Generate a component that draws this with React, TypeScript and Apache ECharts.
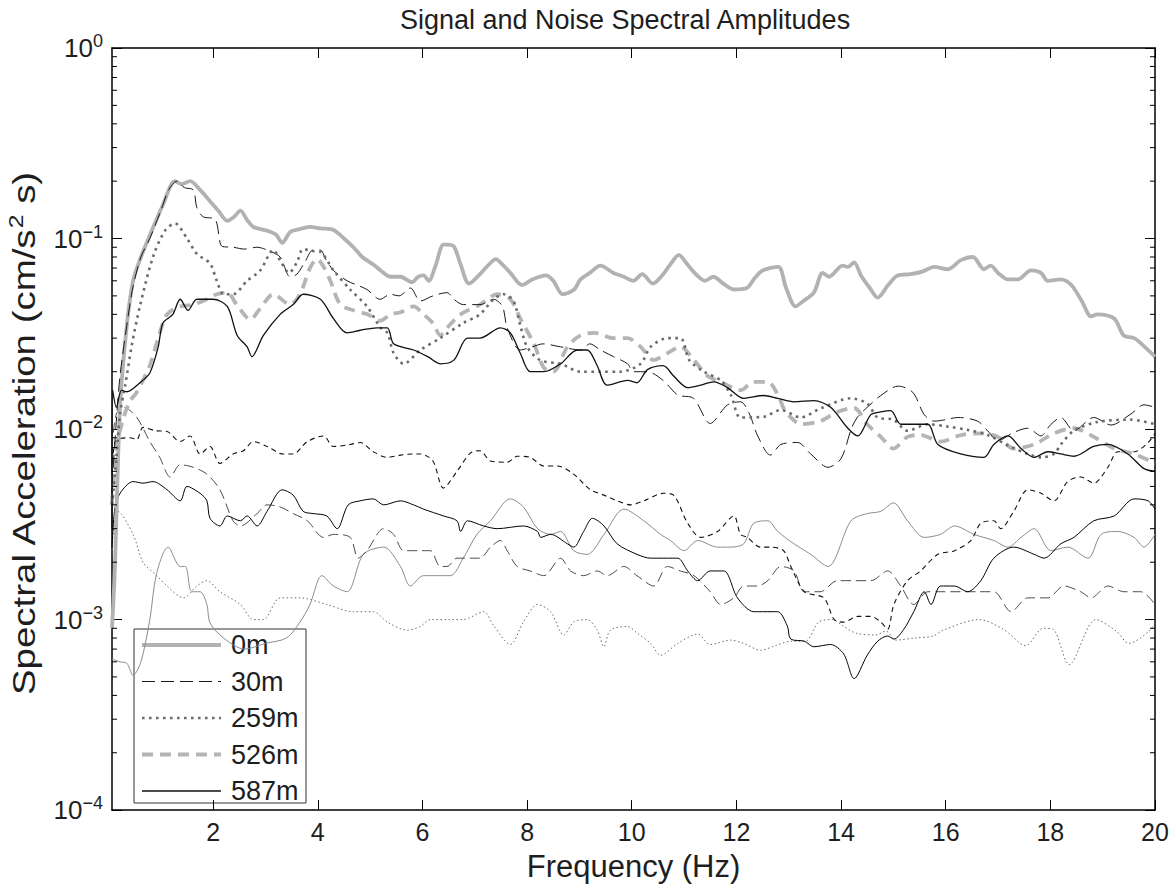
import React, { useEffect, useRef } from "react";
import * as echarts from "echarts";

type Pt = [number, number];

const X_MIN = 0.067;
const X_MAX = 20;
const Y_MIN = 1e-4;
const Y_MAX = 1;

const xTickValues = [2, 4, 6, 8, 10, 12, 14, 16, 18, 20];
const minorMultipliers = [2, 3, 4, 5, 6, 7, 8, 9];
const minorDecades = [1e-4, 1e-3, 1e-2, 1e-1];

const legendNames = ["0m", "30m", "259m", "526m", "587m"];

// ---- signal spectra ----
const sig0m: Pt[] = [[0.067,0.0009],[0.12,0.0018],[0.22,0.0129],[0.35,0.035],[0.47,0.06],[0.62,0.08],[0.79,0.104],[1.04,0.15],[1.27,0.2],[1.4,0.193],[1.56,0.2],[1.75,0.18],[1.94,0.157],[2.1,0.14],[2.27,0.124],[2.4,0.13],[2.52,0.14],[2.65,0.125],[2.77,0.115],[3.03,0.11],[3.2,0.105],[3.32,0.095],[3.47,0.108],[3.65,0.112],[3.85,0.115],[4.05,0.113],[4.3,0.111],[4.5,0.1],[4.68,0.09],[4.85,0.08],[5.06,0.073],[5.2,0.068],[5.39,0.063],[5.58,0.063],[5.8,0.059],[5.92,0.063],[6.02,0.064],[6.12,0.06],[6.25,0.072],[6.4,0.093],[6.47,0.093],[6.6,0.091],[6.73,0.073],[6.89,0.058],[7.1,0.065],[7.25,0.072],[7.4,0.078],[7.55,0.072],[7.68,0.066],[7.9,0.057],[8.1,0.061],[8.36,0.064],[8.5,0.06],[8.68,0.051],[8.9,0.054],[9.02,0.061],[9.2,0.066],[9.4,0.072],[9.65,0.066],[9.85,0.063],[10.03,0.06],[10.2,0.065],[10.4,0.058],[10.6,0.065],[10.75,0.074],[10.9,0.082],[11.05,0.074],[11.2,0.066],[11.4,0.06],[11.56,0.063],[11.75,0.058],[11.95,0.054],[12.2,0.055],[12.35,0.062],[12.5,0.068],[12.8,0.071],[12.95,0.055],[13.13,0.044],[13.28,0.047],[13.48,0.052],[13.65,0.066],[13.77,0.063],[14.03,0.072],[14.13,0.071],[14.25,0.075],[14.38,0.064],[14.55,0.055],[14.7,0.049],[14.9,0.057],[15.08,0.064],[15.33,0.065],[15.55,0.067],[15.78,0.071],[16.04,0.069],[16.29,0.077],[16.52,0.08],[16.73,0.069],[16.86,0.072],[17.0,0.066],[17.19,0.061],[17.38,0.061],[17.63,0.068],[17.82,0.066],[17.95,0.06],[18.2,0.061],[18.4,0.057],[18.6,0.047],[18.78,0.039],[18.9,0.04],[19.22,0.038],[19.4,0.031],[19.6,0.03],[19.74,0.028],[20,0.024]];

const sig30m: Pt[] = [[0.067,0.005],[0.15,0.011],[0.22,0.019],[0.35,0.035],[0.47,0.056],[0.62,0.08],[0.79,0.1],[1.0,0.14],[1.15,0.18],[1.31,0.2],[1.45,0.185],[1.62,0.18],[1.69,0.145],[1.81,0.13],[2.04,0.126],[2.17,0.091],[2.38,0.09],[2.6,0.088],[2.84,0.09],[3.03,0.087],[3.28,0.08],[3.47,0.063],[3.6,0.065],[3.75,0.075],[3.91,0.087],[4.05,0.087],[4.15,0.078],[4.3,0.068],[4.56,0.06],[4.75,0.057],[4.94,0.054],[5.19,0.048],[5.39,0.051],[5.55,0.05],[5.77,0.055],[5.96,0.047],[6.2,0.05],[6.47,0.052],[6.6,0.048],[6.78,0.045],[7.1,0.045],[7.36,0.048],[7.53,0.044],[7.62,0.034],[7.87,0.026],[8.1,0.027],[8.3,0.028],[8.64,0.027],[9.02,0.026],[9.2,0.028],[9.4,0.026],[9.65,0.024],[9.92,0.022],[10.03,0.02],[10.3,0.02],[10.6,0.018],[10.88,0.0151],[11.18,0.0145],[11.5,0.0107],[11.83,0.0134],[12.08,0.0139],[12.25,0.012],[12.4,0.0093],[12.65,0.0073],[12.85,0.0083],[13.17,0.0085],[13.42,0.0074],[13.75,0.0063],[14.0,0.007],[14.2,0.0101],[14.32,0.0116],[14.5,0.013],[14.76,0.015],[15.09,0.0168],[15.37,0.0156],[15.59,0.0119],[15.78,0.011],[16.0,0.0112],[16.23,0.0115],[16.61,0.011],[16.8,0.0098],[17.0,0.0087],[17.3,0.0096],[17.57,0.0101],[17.82,0.0092],[18.0,0.0105],[18.2,0.0115],[18.45,0.0098],[18.83,0.0115],[19.16,0.0105],[19.54,0.012],[19.79,0.0134],[20,0.013]];

const sig259m: Pt[] = [[0.067,0.004],[0.15,0.007],[0.22,0.012],[0.32,0.017],[0.45,0.028],[0.6,0.044],[0.85,0.08],[1.08,0.11],[1.27,0.12],[1.5,0.1],[1.69,0.083],[1.94,0.074],[2.07,0.06],[2.2,0.051],[2.38,0.051],[2.65,0.06],[2.9,0.068],[3.15,0.087],[3.3,0.075],[3.45,0.066],[3.6,0.075],[3.72,0.088],[3.9,0.086],[4.05,0.085],[4.3,0.068],[4.62,0.054],[4.94,0.044],[5.2,0.034],[5.33,0.032],[5.45,0.025],[5.64,0.022],[5.96,0.026],[6.34,0.03],[6.78,0.036],[7.1,0.04],[7.36,0.048],[7.55,0.051],[7.74,0.047],[7.87,0.035],[8.0,0.027],[8.25,0.023],[8.64,0.022],[9.02,0.02],[9.4,0.02],[9.78,0.02],[10.17,0.022],[10.36,0.027],[10.68,0.03],[10.93,0.03],[11.1,0.023],[11.38,0.02],[11.7,0.018],[11.9,0.015],[12.08,0.0115],[12.52,0.0116],[12.85,0.0126],[13.23,0.0115],[13.6,0.0128],[14.19,0.0145],[14.5,0.0136],[14.7,0.0115],[15.0,0.0112],[15.27,0.0098],[15.66,0.0106],[16.04,0.0103],[16.42,0.0099],[16.8,0.0093],[17.19,0.0082],[17.57,0.0074],[17.82,0.0071],[18.07,0.0074],[18.2,0.0083],[18.45,0.0098],[18.9,0.0109],[19.54,0.0112],[20,0.0106]];

const sig526m: Pt[] = [[0.067,0.004],[0.15,0.008],[0.29,0.0115],[0.41,0.014],[0.54,0.0156],[0.79,0.0216],[0.98,0.032],[1.12,0.04],[1.37,0.044],[1.62,0.045],[1.88,0.048],[2.07,0.051],[2.27,0.052],[2.45,0.045],[2.71,0.0376],[2.9,0.043],[3.15,0.051],[3.47,0.045],[3.66,0.051],[3.85,0.07],[3.99,0.078],[4.1,0.072],[4.24,0.06],[4.43,0.045],[4.68,0.042],[4.95,0.04],[5.19,0.037],[5.4,0.04],[5.58,0.041],[5.83,0.044],[6.02,0.04],[6.2,0.036],[6.34,0.031],[6.47,0.034],[6.73,0.04],[7.1,0.045],[7.43,0.051],[7.68,0.048],[7.87,0.038],[8.13,0.028],[8.32,0.021],[8.5,0.02],[8.77,0.027],[9.02,0.031],[9.28,0.032],[9.65,0.03],[9.92,0.03],[10.17,0.027],[10.42,0.023],[10.68,0.025],[10.93,0.027],[11.19,0.023],[11.45,0.019],[11.7,0.0177],[12.08,0.016],[12.33,0.0177],[12.6,0.0177],[12.8,0.015],[12.9,0.0129],[13.04,0.0115],[13.23,0.0106],[13.6,0.011],[13.93,0.0123],[14.25,0.0129],[14.5,0.0106],[14.76,0.0091],[15.0,0.0079],[15.27,0.0091],[15.52,0.0093],[15.9,0.0086],[16.29,0.0093],[16.67,0.0095],[17.0,0.0091],[17.3,0.0079],[17.69,0.0083],[18.07,0.0095],[18.45,0.0101],[18.83,0.0091],[19.22,0.0079],[19.6,0.0074],[20,0.0066]];

const sig587m: Pt[] = [[0.067,0.003],[0.08,0.016],[0.15,0.013],[0.25,0.016],[0.35,0.0157],[0.6,0.0175],[0.79,0.0197],[0.95,0.027],[1.04,0.036],[1.23,0.04],[1.37,0.048],[1.52,0.042],[1.69,0.048],[2.0,0.048],[2.27,0.044],[2.46,0.031],[2.65,0.027],[2.74,0.024],[2.96,0.031],[3.28,0.04],[3.53,0.045],[3.72,0.051],[4.05,0.048],[4.3,0.038],[4.56,0.032],[4.81,0.033],[5.13,0.034],[5.33,0.034],[5.45,0.028],[5.83,0.026],[6.1,0.024],[6.34,0.022],[6.6,0.023],[6.86,0.03],[7.1,0.03],[7.49,0.034],[7.68,0.032],[7.87,0.025],[8.06,0.02],[8.32,0.02],[8.64,0.022],[8.96,0.026],[9.15,0.026],[9.34,0.0215],[9.53,0.017],[9.92,0.018],[10.1,0.0175],[10.3,0.0205],[10.6,0.0215],[10.8,0.019],[11.07,0.0165],[11.32,0.017],[11.57,0.0177],[11.83,0.0165],[12.14,0.0145],[12.52,0.015],[12.79,0.0145],[13.1,0.0139],[13.48,0.0141],[13.8,0.013],[14.13,0.0101],[14.32,0.0092],[14.57,0.0119],[14.76,0.0123],[14.95,0.0125],[15.14,0.0106],[15.39,0.0106],[15.66,0.0106],[15.85,0.0083],[16.29,0.0074],[16.73,0.0071],[16.92,0.0083],[17.19,0.0092],[17.44,0.0079],[17.69,0.0071],[17.95,0.0076],[18.2,0.0074],[18.45,0.0072],[18.83,0.0081],[19.1,0.0083],[19.48,0.0074],[19.79,0.0062],[20,0.006]];

// ---- noise spectra ----
const noise0m: Pt[] = [[0.067,0.00062],[0.22,0.0006],[0.35,0.00059],[0.47,0.00051],[0.62,0.0006],[0.79,0.001],[0.92,0.00175],[1.14,0.0024],[1.37,0.0019],[1.47,0.0019],[1.59,0.0014],[1.75,0.0014],[1.88,0.0012],[1.94,0.00096],[2.2,0.0008],[2.6,0.0007],[3.0,0.00075],[3.4,0.0008],[3.66,0.00097],[3.85,0.0012],[4.08,0.0017],[4.3,0.0015],[4.56,0.0014],[4.87,0.0022],[5.26,0.0024],[5.58,0.0019],[5.77,0.0015],[6.02,0.0017],[6.53,0.0017],[6.78,0.0021],[7.04,0.0028],[7.3,0.0033],[7.68,0.0043],[7.93,0.0039],[8.2,0.003],[8.45,0.0028],[8.64,0.0029],[8.89,0.0023],[9.15,0.0022],[9.47,0.0028],[9.85,0.0038],[10.23,0.0033],[10.55,0.0028],[10.74,0.0026],[11.0,0.0023],[11.26,0.0026],[11.64,0.0024],[11.89,0.0024],[12.14,0.0025],[12.33,0.0032],[12.6,0.0033],[12.79,0.0029],[13.1,0.0025],[13.42,0.0022],[13.75,0.0019],[14.19,0.0033],[14.5,0.0036],[14.76,0.0037],[15.0,0.0041],[15.27,0.0033],[15.59,0.0027],[15.9,0.0028],[16.17,0.0031],[16.54,0.0028],[16.92,0.0026],[17.19,0.0024],[17.44,0.0027],[17.69,0.003],[18.01,0.0023],[18.33,0.0024],[18.72,0.0021],[18.97,0.0028],[19.29,0.0029],[19.6,0.0027],[19.79,0.0024],[20,0.0028]];

const noise30m: Pt[] = [[0.067,0.008],[0.15,0.012],[0.29,0.013],[0.54,0.0115],[0.79,0.0086],[0.98,0.0071],[1.18,0.0056],[1.37,0.0065],[1.62,0.0063],[1.88,0.0058],[2.13,0.0048],[2.38,0.0033],[2.52,0.0031],[2.84,0.0036],[3.03,0.004],[3.28,0.0039],[3.53,0.0036],[3.8,0.0033],[4.11,0.0027],[4.3,0.0028],[4.62,0.0027],[4.77,0.0021],[4.94,0.0023],[5.26,0.003],[5.45,0.0028],[5.64,0.0023],[5.9,0.0023],[6.15,0.0023],[6.34,0.0019],[6.47,0.0019],[6.66,0.0021],[6.92,0.0021],[7.1,0.0021],[7.3,0.0024],[7.49,0.0026],[7.62,0.0023],[7.81,0.0019],[8.06,0.0018],[8.32,0.0017],[8.64,0.0021],[8.83,0.0018],[9.08,0.0017],[9.34,0.0018],[9.53,0.0017],[9.85,0.0019],[10.1,0.0017],[10.42,0.0015],[10.68,0.0019],[10.93,0.0018],[11.19,0.0017],[11.5,0.0014],[11.7,0.0012],[11.95,0.0013],[12.14,0.0015],[12.4,0.0015],[12.6,0.0016],[12.85,0.0019],[13.1,0.0018],[13.3,0.0014],[13.6,0.0014],[13.93,0.0016],[14.25,0.0016],[14.57,0.0016],[14.89,0.0018],[15.14,0.0015],[15.39,0.0012],[15.66,0.0014],[15.9,0.0014],[16.29,0.0014],[16.61,0.0014],[16.92,0.0014],[17.25,0.0011],[17.57,0.0013],[17.95,0.0013],[18.26,0.0015],[18.58,0.0014],[18.78,0.0013],[19.1,0.0015],[19.41,0.0014],[19.73,0.0014],[20,0.0012]];

const noise259m: Pt[] = [[0.067,0.0022],[0.1,0.003],[0.18,0.0037],[0.47,0.0028],[0.66,0.002],[0.92,0.0017],[1.12,0.0015],[1.43,0.0013],[1.69,0.0015],[1.88,0.0016],[2.13,0.0014],[2.52,0.0012],[2.77,0.001],[2.96,0.001],[3.28,0.0013],[3.66,0.0013],[4.17,0.0012],[4.68,0.0011],[5.06,0.0011],[5.33,0.00097],[5.71,0.00088],[5.96,0.00092],[6.15,0.001],[6.53,0.001],[6.78,0.001],[7.17,0.0011],[7.36,0.00093],[7.68,0.00074],[7.93,0.00097],[8.2,0.0012],[8.45,0.0011],[8.7,0.00083],[8.89,0.00097],[9.15,0.001],[9.34,0.00088],[9.47,0.00072],[9.59,0.00088],[9.92,0.00092],[10.1,0.00085],[10.36,0.00075],[10.55,0.00065],[10.88,0.00075],[11.26,0.00084],[11.5,0.00074],[11.89,0.00078],[12.14,0.00075],[12.46,0.00069],[12.75,0.00073],[13.04,0.00077],[13.32,0.00077],[13.57,0.00097],[13.84,0.001],[14.03,0.00093],[14.28,0.00085],[14.66,0.00083],[14.86,0.00087],[15.05,0.00078],[15.4,0.0008],[15.76,0.00082],[15.95,0.00088],[16.64,0.001],[17.1,0.00089],[17.53,0.00073],[17.86,0.0009],[18.05,0.00089],[18.36,0.00058],[18.87,0.001],[19.26,0.00087],[19.5,0.00075],[19.89,0.00087],[20,0.00097]];

const noise526m: Pt[] = [[0.067,0.006],[0.12,0.0085],[0.22,0.0089],[0.41,0.009],[0.54,0.0088],[0.66,0.0102],[0.9,0.0098],[1.12,0.0097],[1.37,0.0086],[1.56,0.0092],[1.75,0.0074],[1.94,0.0081],[2.13,0.0066],[2.38,0.0074],[2.58,0.0077],[2.77,0.0086],[3.03,0.0081],[3.34,0.0074],[3.53,0.0074],[3.8,0.0086],[4.11,0.0092],[4.3,0.0081],[4.62,0.0083],[4.81,0.0085],[5.06,0.0076],[5.33,0.0071],[5.58,0.0073],[5.83,0.0074],[5.96,0.0074],[6.2,0.0068],[6.4,0.0049],[6.66,0.006],[6.92,0.0075],[7.1,0.0077],[7.3,0.0068],[7.62,0.0067],[7.81,0.0072],[8.06,0.0071],[8.32,0.0064],[8.58,0.0064],[8.89,0.0058],[9.21,0.0048],[9.47,0.0045],[9.72,0.0042],[9.98,0.004],[10.23,0.0042],[10.61,0.0046],[10.8,0.0045],[11.07,0.0032],[11.32,0.0027],[11.64,0.0029],[11.95,0.0035],[12.08,0.0028],[12.21,0.0027],[12.46,0.0024],[12.65,0.0024],[12.9,0.0023],[13.04,0.0019],[13.3,0.0014],[13.67,0.0013],[13.87,0.001],[14.05,0.00097],[14.32,0.00104],[14.57,0.00104],[14.76,0.00097],[14.89,0.00089],[15.01,0.0012],[15.27,0.0016],[15.52,0.0018],[15.85,0.0022],[16.17,0.0023],[16.48,0.0026],[16.67,0.0032],[16.92,0.0033],[17.05,0.003],[17.3,0.0037],[17.57,0.0048],[17.82,0.0046],[18.07,0.0042],[18.33,0.0053],[18.58,0.0056],[18.83,0.0052],[19.1,0.0063],[19.29,0.0076],[19.6,0.0076],[19.87,0.0085],[20,0.0095]];

const noise587m: Pt[] = [[0.067,0.0024],[0.12,0.0038],[0.22,0.0046],[0.47,0.0053],[0.66,0.0052],[0.85,0.0053],[1.12,0.0048],[1.37,0.0042],[1.5,0.005],[1.75,0.0046],[1.88,0.0042],[1.94,0.0034],[2.13,0.0031],[2.27,0.0035],[2.52,0.0033],[2.65,0.0035],[2.84,0.0031],[3.03,0.0037],[3.32,0.0048],[3.53,0.0045],[3.72,0.0037],[3.91,0.0036],[4.17,0.0035],[4.37,0.003],[4.58,0.004],[4.81,0.0042],[5.06,0.0043],[5.26,0.004],[5.58,0.0042],[5.83,0.004],[6.02,0.0038],[6.4,0.0035],[6.66,0.0033],[6.73,0.0029],[6.86,0.0033],[7.17,0.0031],[7.43,0.003],[7.93,0.0031],[8.2,0.0029],[8.26,0.0027],[8.45,0.0028],[8.77,0.0025],[8.89,0.0024],[9.08,0.0029],[9.25,0.0034],[9.47,0.0031],[9.72,0.0025],[10.1,0.0022],[10.36,0.0021],[10.68,0.0021],[10.88,0.0021],[11.07,0.0018],[11.26,0.0016],[11.5,0.0018],[11.76,0.0018],[12.02,0.0013],[12.33,0.0011],[12.52,0.0011],[12.79,0.0011],[12.97,0.00093],[13.04,0.00079],[13.3,0.00077],[13.48,0.00072],[13.8,0.00074],[14.05,0.00066],[14.25,0.00049],[14.5,0.00065],[14.7,0.00077],[14.89,0.00082],[15.01,0.00079],[15.2,0.00089],[15.39,0.0011],[15.59,0.0014],[15.72,0.0012],[15.9,0.0015],[16.17,0.0015],[16.42,0.0014],[16.67,0.0016],[16.92,0.0021],[17.3,0.0024],[17.69,0.0022],[17.88,0.0021],[18.2,0.0025],[18.45,0.0027],[18.83,0.0033],[19.22,0.0035],[19.6,0.0043],[19.87,0.0042],[20,0.0038]];

const FONT = "'Liberation Sans', Arial, Helvetica, sans-serif";
const TXT = "#1e1e1e";

type LS = { color: string; width: number; dash: number[] | null };
const signalStyles: Record<string, LS> = {
  "0m": { color: "#b2b2b2", width: 3.8, dash: null },
  "30m": { color: "#1a1a1a", width: 1, dash: [13, 6] },
  "259m": { color: "#6b6b6b", width: 2.6, dash: [2.6, 4.4] },
  "526m": { color: "#b5b5b5", width: 3.8, dash: [11, 7] },
  "587m": { color: "#111111", width: 1.3, dash: null },
};

function lineSeries(name: string, data: Pt[], color: string, width: number, type: any, z: number) {
  return {
    name,
    type: "line",
    data,
    showSymbol: false,
    symbol: "none",
    smooth: 0.3,
    silent: true,
    z,
    emphasis: { disabled: true },
    lineStyle: { color, width, type: type || "solid", join: "round" },
    itemStyle: { color },
  };
}

export default function App() {
  const ref = useRef<HTMLDivElement>(null);

  useEffect(() => {
    if (!ref.current) return;
    const chart = echarts.init(ref.current, null, { renderer: "svg" });

    const minorTickValues: number[] = [];
    minorDecades.forEach((d) => minorMultipliers.forEach((m) => minorTickValues.push(m * d)));

    const axisLineStyle = { color: "#000", width: 1.5 };
    const tickStyle = { color: "#000", width: 1 };

    // legend drawn as graphic (box, sample lines, labels)
    const LEG_X = 134, LEG_Y = 629, LEG_W = 172, LEG_H = 174;
    const legendChildren: any[] = [
      { type: "rect", shape: { x: LEG_X, y: LEG_Y, width: LEG_W, height: LEG_H }, style: { fill: "#fff", stroke: "#333", lineWidth: 1 } },
    ];
    legendNames.forEach((n, i) => {
      const st = signalStyles[n];
      const cy = LEG_Y + 16 + i * 36.5;
      legendChildren.push({
        type: "line",
        shape: { x1: LEG_X + 8, y1: cy, x2: LEG_X + 87, y2: cy },
        style: { stroke: st.color, lineWidth: st.width, lineDash: st.dash || undefined },
      });
      legendChildren.push({
        type: "text",
        x: LEG_X + 97,
        y: cy,
        style: { text: n, fontSize: 27, fontFamily: FONT, fill: TXT, textVerticalAlign: "middle", textAlign: "left" },
      });
    });

    const option: any = {
      animation: false,
      backgroundColor: "#fff",
      graphic: [
        {
          type: "text",
          x: 625,
          y: 20,
          z: 100,
          style: {
            text: "Signal and Noise Spectral Amplitudes",
            fontSize: 27,
            fontFamily: FONT,
            fill: TXT,
            textAlign: "center",
            textVerticalAlign: "middle",
          },
        },
        {
          type: "text",
          x: 24,
          y: 434,
          z: 100,
          rotation: Math.PI / 2,
          scaleX: 1.24,
          style: {
            text: "Spectral Acceleration (cm/s{s|2} s)",
            fontSize: 31,
            lineHeight: 36,
            fontFamily: FONT,
            fill: TXT,
            textAlign: "center",
            textVerticalAlign: "middle",
            rich: {
              s: { fontSize: 20, lineHeight: 18, verticalAlign: "top", fill: TXT, fontFamily: FONT },
            },
          },
        },
        { type: "group", z: 100, children: legendChildren },
      ],
      grid: { left: 112, top: 48, right: 20, bottom: 68, containLabel: false },
      xAxis: [
        {
          type: "value",
          min: X_MIN,
          max: X_MAX,
          position: "bottom",
          axisLine: { show: true, onZero: false, lineStyle: axisLineStyle },
          axisTick: { show: true, inside: true, length: 10, customValues: xTickValues, lineStyle: tickStyle },
          axisLabel: { show: true, customValues: xTickValues, fontSize: 25, color: TXT, margin: 9, fontFamily: FONT },
          splitLine: { show: false },
          name: "Frequency (Hz)",
          nameLocation: "middle",
          nameGap: 30,
          nameTextStyle: { fontSize: 31, lineHeight: 34, color: TXT, fontFamily: FONT },
        },
        {
          type: "value",
          min: X_MIN,
          max: X_MAX,
          position: "top",
          axisLine: { show: true, onZero: false, lineStyle: axisLineStyle },
          axisTick: { show: true, inside: true, length: 10, customValues: xTickValues, lineStyle: tickStyle },
          axisLabel: { show: false, customValues: xTickValues },
          splitLine: { show: false },
        },
      ],
      yAxis: [
        {
          type: "log",
          logBase: 10,
          min: Y_MIN,
          max: Y_MAX,
          position: "left",
          axisLine: { show: true, onZero: false, lineStyle: axisLineStyle },
          axisTick: { show: true, inside: true, length: 10, lineStyle: tickStyle },
          minorTick: { show: false },
          splitLine: { show: false },
          axisLabel: {
            show: true,
            margin: 9,
            fontSize: 26,
            lineHeight: 32,
            color: TXT,
            fontFamily: FONT,
            formatter: (v: number) => {
              const e = Math.round(Math.log10(v));
              const s = e < 0 ? "\u2212" + -e : String(e);
              return "{b|10}{s|" + s + "}";
            },
            rich: {
              b: { fontSize: 26, lineHeight: 32, verticalAlign: "middle", color: TXT, fontFamily: FONT },
              s: { fontSize: 18, lineHeight: 15, verticalAlign: "top", color: TXT, fontFamily: FONT },
            },
          },
        },
        {
          type: "log",
          logBase: 10,
          min: Y_MIN,
          max: Y_MAX,
          position: "right",
          axisLine: { show: true, onZero: false, lineStyle: axisLineStyle },
          axisTick: { show: true, inside: true, length: 10, lineStyle: tickStyle },
          minorTick: { show: false },
          splitLine: { show: false },
          axisLabel: { show: false },
        },
      ],
      series: [
        lineSeries("0m noise", noise0m, "#8c8c8c", 1, "solid", 2),
        lineSeries("30m noise", noise30m, "#4a4a4a", 1, [10, 5], 2),
        lineSeries("259m noise", noise259m, "#6a6a6a", 1, [1.5, 2.5], 2),
        lineSeries("526m noise", noise526m, "#111", 1.1, [5, 4], 2),
        lineSeries("587m noise", noise587m, "#000", 1, "solid", 2),
        lineSeries("0m", sig0m, signalStyles["0m"].color, signalStyles["0m"].width, signalStyles["0m"].dash, 3),
        lineSeries("526m", sig526m, signalStyles["526m"].color, signalStyles["526m"].width, signalStyles["526m"].dash, 3),
        lineSeries("30m", sig30m, signalStyles["30m"].color, signalStyles["30m"].width, signalStyles["30m"].dash, 3),
        lineSeries("259m", sig259m, signalStyles["259m"].color, signalStyles["259m"].width, signalStyles["259m"].dash, 3),
        lineSeries("587m", sig587m, signalStyles["587m"].color, signalStyles["587m"].width, signalStyles["587m"].dash, 3),
        {
          name: "minorTicks",
          type: "custom",
          xAxisIndex: 0,
          yAxisIndex: 0,
          silent: true,
          clip: false,
          z: 5,
          data: minorTickValues.map((v) => [X_MIN, v]),
          renderItem: (params: any, api: any) => {
            const p = api.coord([api.value(0), api.value(1)]);
            const cs = params.coordSys;
            const l = cs.x;
            const r = cs.x + cs.width;
            const y = p[1];
            return {
              type: "group",
              children: [
                { type: "line", shape: { x1: l, y1: y, x2: l + 5, y2: y }, style: { stroke: "#000", lineWidth: 1 } },
                { type: "line", shape: { x1: r - 5, y1: y, x2: r, y2: y }, style: { stroke: "#000", lineWidth: 1 } },
              ],
            };
          },
        },
      ],
    };

    chart.setOption(option);
    return () => chart.dispose();
  }, []);

  return (
    <div
      ref={ref}
      style={{ position: "absolute", left: 0, top: 0, width: 1175, height: 888, background: "#fff" }}
    />
  );
}
